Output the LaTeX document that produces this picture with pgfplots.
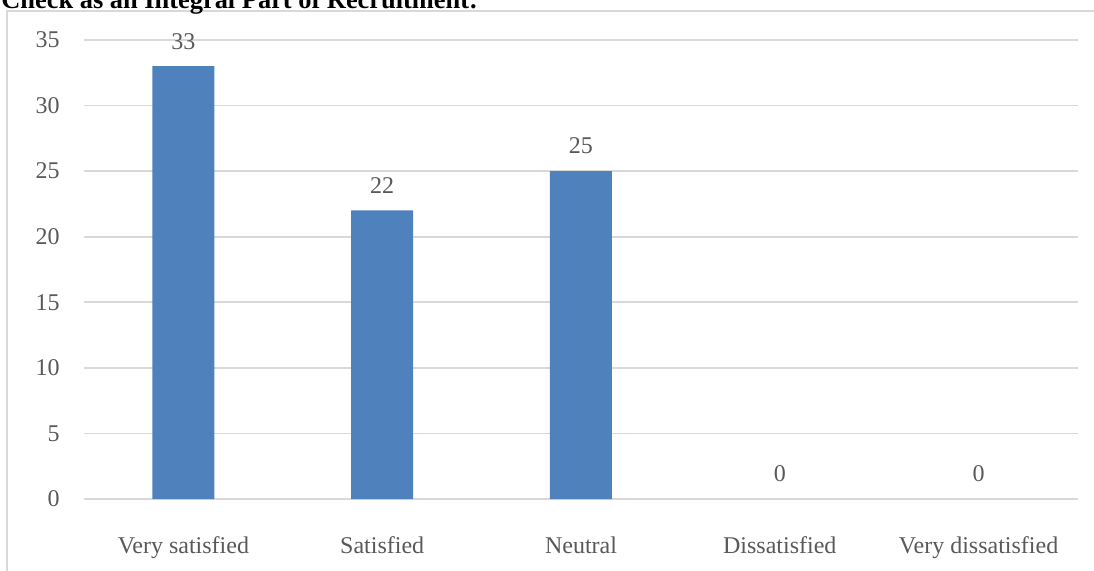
\documentclass[border=0pt]{standalone}
\usepackage{fontspec}
\setmainfont{Liberation Serif}
\usepackage{pgfplots}
\pgfplotsset{compat=1.18}
\definecolor{barblue}{HTML}{4F81BD}
\definecolor{gridgray}{HTML}{D9D9D9}
\definecolor{textgray}{HTML}{595959}
\begin{document}
\begin{tikzpicture}
\useasboundingbox (0pt,0pt) rectangle (547pt,285pt);
\draw[gridgray, line width=0.8pt] (3.5pt,-2pt) -- (3.5pt,279.5pt) -- (550pt,279.5pt);
\node[anchor=base west, inner sep=0pt, font=\fontsize{13.2}{15}\selectfont\bfseries] at (0.5pt,281pt) {Check as an Integral Part of Recruitment:};
\begin{axis}[
  at={(42pt,35.5pt)}, anchor=south west,
  scale only axis, width=497pt, height=229.5pt,
  xmin=-0.5, xmax=4.5, ymin=0, ymax=35,
  ytick={0,5,...,35},
  xtick={0,1,2,3,4},
  xticklabels={Very satisfied, Satisfied, Neutral, Dissatisfied, Very dissatisfied},
  axis line style={draw=none},
  axis x line*=bottom,
  x axis line style={draw=gridgray, line width=0.8pt},
  tick style={draw=none},
  ymajorgrids, grid style={gridgray, line width=0.8pt},
  /pgf/number format/assume math mode=true,
  tick label style={font=\fontsize{12}{14}\selectfont, text=textgray},
  yticklabel style={anchor=east, inner sep=0pt, xshift=-12pt},
  xticklabel style={anchor=north, inner sep=0pt, yshift=-14.5pt},
  ybar, bar width=31pt, bar shift=0pt,
  nodes near coords,
  nodes near coords style={font=\fontsize{12}{14}\selectfont, text=textgray, anchor=center, inner sep=0pt, yshift=12.5pt},
  clip=false,
]
\addplot[fill=barblue, draw=none] coordinates {(0,33) (1,22) (2,25)};
\addplot[fill=none, draw=none] coordinates {(3,0) (4,0)};
\end{axis}
\end{tikzpicture}
\end{document}
